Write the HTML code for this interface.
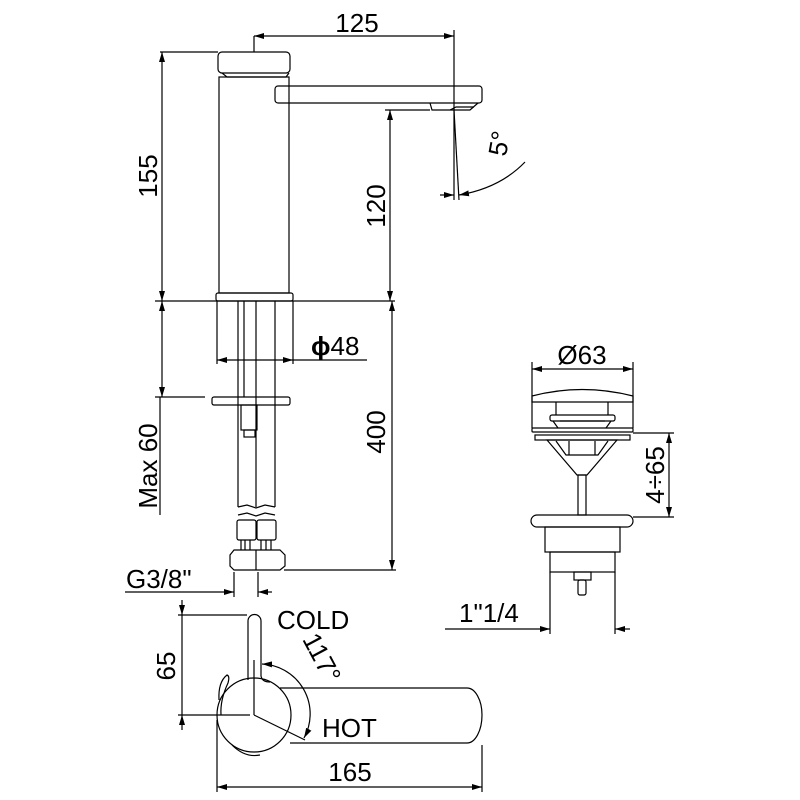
<!DOCTYPE html>
<html><head><meta charset="utf-8"><style>html,body{margin:0;padding:0;background:#fff}svg{display:block}</style></head>
<body>
<svg width="800" height="800" viewBox="0 0 800 800" xmlns="http://www.w3.org/2000/svg">
<defs>
<marker id="a" viewBox="0 0 10 6" refX="10" refY="3" markerWidth="10" markerHeight="6" orient="auto-start-reverse" markerUnits="userSpaceOnUse"><path d="M0,0L10,3L0,6z" fill="#000"/></marker>
</defs>
<g fill="none" stroke="#000" stroke-width="1.2">
<rect x="218" y="52" width="72" height="21" rx="4"/>
<path d="M222,73 L227,77 L286,77 L289,73"/>
<rect x="219" y="77" width="70" height="216"/>
<rect x="216" y="293" width="77" height="8" rx="2"/>
<rect x="275" y="86" width="207" height="17" rx="3"/>
<path d="M430,103 L432,110 L470,110 L478,103"/>
<path d="M450,110 L456,107 L474,107"/>
<line x1="238" y1="301" x2="238" y2="507"/><line x1="275" y1="301" x2="275" y2="507"/>
<line x1="256" y1="301" x2="256" y2="507"/>
<line x1="244" y1="301" x2="244" y2="397"/>
<rect x="212" y="397" width="78" height="8" rx="2"/>
<rect x="241" y="405" width="16" height="25"/><rect x="244" y="430" width="11" height="7"/>
<path d="M238,507 L247,505 L256,508 L265,505 L275,507"/>
<path d="M238,515 L247,513 L256,516 L265,513 L275,515"/>
<rect x="237" y="520" width="19" height="20" rx="2"/><rect x="257" y="520" width="19" height="20" rx="2"/>
<path d="M241,540v10M245,540v10M250,540v10M261,540v10M266,540v10M271,540v10"/>
<path d="M234,550 L280,550 L285,555 L285,566 L280,570 L234,570 L230,566 L230,555 Z"/>
<line x1="256" y1="550" x2="256" y2="570"/>
<line x1="160" y1="52" x2="218" y2="52"/>
<line x1="162" y1="52" x2="162" y2="301" marker-start="url(#a)" marker-end="url(#a)"/>
<line x1="155" y1="301" x2="395" y2="301"/>
<line x1="162" y1="301" x2="162" y2="397" marker-start="url(#a)" marker-end="url(#a)"/>
<line x1="155" y1="397" x2="205" y2="397"/>
<line x1="160" y1="397" x2="160" y2="515"/>
<line x1="254" y1="36" x2="254" y2="52"/>
<line x1="254" y1="36" x2="454" y2="36" marker-start="url(#a)" marker-end="url(#a)"/>
<line x1="454" y1="30" x2="454" y2="200"/>
<line x1="454" y1="110" x2="459" y2="200"/>
<line x1="440" y1="195" x2="454" y2="195" marker-end="url(#a)"/>
<path d="M525,162 Q500,188 459,195" marker-end="url(#a)"/>
<line x1="385" y1="110" x2="430" y2="110"/>
<line x1="390" y1="110" x2="390" y2="301" marker-start="url(#a)" marker-end="url(#a)"/>
<line x1="392" y1="301" x2="392" y2="570" marker-start="url(#a)" marker-end="url(#a)"/>
<line x1="284" y1="570" x2="396" y2="570"/>
<line x1="217" y1="301" x2="217" y2="364"/><line x1="293" y1="301" x2="293" y2="364"/>
<line x1="217" y1="360" x2="293" y2="360" marker-start="url(#a)" marker-end="url(#a)"/>
<line x1="293" y1="360" x2="367" y2="360"/>
<line x1="234" y1="572" x2="234" y2="597"/><line x1="258" y1="572" x2="258" y2="597"/>
<line x1="125" y1="592" x2="234" y2="592" marker-end="url(#a)"/>
<line x1="272" y1="592" x2="258" y2="592" marker-end="url(#a)"/>
<line x1="532" y1="362" x2="532" y2="428"/><line x1="633" y1="362" x2="633" y2="428"/>
<line x1="532" y1="369" x2="633" y2="369" marker-start="url(#a)" marker-end="url(#a)"/>
<path d="M532,402 L532,396 Q582,383 633,396 L633,402 Z"/>
<path d="M556,402 V415 M608,402 V415"/>
<rect x="550" y="415" width="65" height="6" rx="2"/>
<path d="M553,421 L558,428 M611,421 L606,428 M560,421 H605"/>
<rect x="532" y="428" width="101" height="4" rx="1"/>
<rect x="535" y="435" width="95" height="5"/>
<path d="M547,440 L617,440 L587,475 L577,475 Z"/>
<path d="M556,441 L566,455 L598,455 L608,441 M569,441 V455 M595,441 V455"/>
<rect x="578" y="475" width="8" height="40"/>
<rect x="531" y="515" width="102" height="12" rx="6"/>
<rect x="545" y="527" width="75" height="25"/>
<rect x="550" y="552" width="65" height="20"/>
<rect x="574" y="572" width="17" height="8"/><rect x="578" y="580" width="8" height="15" rx="2"/>
<line x1="633" y1="433" x2="674" y2="433"/><line x1="633" y1="517" x2="674" y2="517"/>
<line x1="669" y1="433" x2="669" y2="517" marker-start="url(#a)" marker-end="url(#a)"/>
<line x1="550" y1="572" x2="550" y2="634"/><line x1="615" y1="572" x2="615" y2="634"/>
<line x1="445" y1="629" x2="550" y2="629" marker-end="url(#a)"/>
<line x1="630" y1="629" x2="615" y2="629" marker-end="url(#a)"/>
<path d="M280,688 L467,688 A15,27 0 0 1 482,715 A15,28 0 0 1 467,743 L290,743"/>
<circle cx="254" cy="715" r="37"/>
<path d="M248,680 L248,621 A6.5,6.5 0 0 1 261,621 L261,676 Q262,682 270,682"/>
<path d="M219,700 Q218,682 227,675 Q230,676 228,683 Q220,700 221,715"/>
<path d="M232,745 Q245,758 260,755"/>
<line x1="254" y1="660" x2="254" y2="715"/>
<line x1="254" y1="715" x2="305" y2="740"/>
<path d="M262,664 A50,50 0 0 1 304,738" marker-start="url(#a)" marker-end="url(#a)"/>
<line x1="178" y1="615" x2="247" y2="615"/><line x1="178" y1="715" x2="250" y2="715"/>
<line x1="182" y1="600" x2="182" y2="615" marker-end="url(#a)"/>
<line x1="182" y1="615" x2="182" y2="715"/>
<line x1="182" y1="730" x2="182" y2="715" marker-end="url(#a)"/>
<line x1="217" y1="720" x2="217" y2="792"/><line x1="482" y1="745" x2="482" y2="792"/>
<line x1="217" y1="787" x2="482" y2="787" marker-start="url(#a)" marker-end="url(#a)"/>
</g>
<g font-family="Liberation Sans, sans-serif" font-size="26" fill="#000">
<text x="357" y="32" text-anchor="middle">125</text>
<text transform="translate(157,176) rotate(-90)" text-anchor="middle">155</text>
<text transform="translate(385,206) rotate(-90)" text-anchor="middle">120</text>
<text transform="translate(508,145) rotate(-80)" text-anchor="middle">5°</text>
<text x="311" y="355"><tspan font-weight="bold">ϕ</tspan>48</text>
<text transform="translate(157,466) rotate(-90)" text-anchor="middle">Max 60</text>
<text transform="translate(385,432) rotate(-90)" text-anchor="middle">400</text>
<text x="126" y="588">G3/8"</text>
<text x="582" y="364" text-anchor="middle">Ø63</text>
<text transform="translate(664,475) rotate(-90)" text-anchor="middle">4÷65</text>
<text x="459" y="622">1"1/4</text>
<text x="277" y="629">COLD</text>
<text x="322" y="737">HOT</text>
<text transform="translate(175,666) rotate(-90)" text-anchor="middle">65</text>
<text transform="translate(314,662) rotate(62)" text-anchor="middle">117°</text>
<text x="350" y="781" text-anchor="middle">165</text>
</g>
</svg>
</body></html>
